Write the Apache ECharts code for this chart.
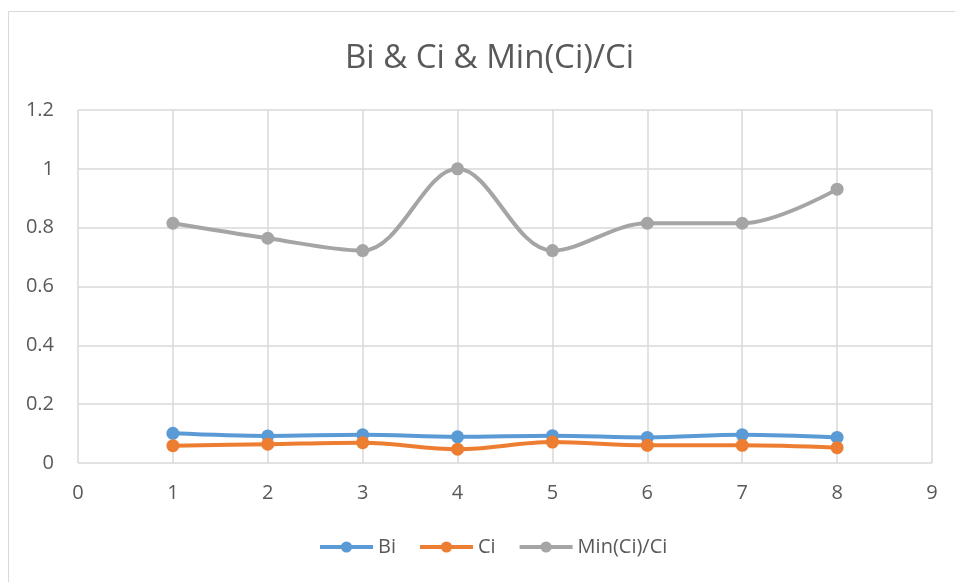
<!DOCTYPE html>
<html><head><meta charset="utf-8">
<script src="https://cdn.jsdelivr.net/npm/echarts@6/dist/echarts.min.js"></script>
<style>html,body{margin:0;padding:0;background:#fff}#c{width:955px;height:582px}</style>
</head><body><div id="c"></div>
<script>
const xValues = [1, 2, 3, 4, 5, 6, 7, 8];
const bi = [0.101, 0.092, 0.096, 0.089, 0.093, 0.087, 0.096, 0.087];
const ci = [0.059, 0.064, 0.069, 0.047, 0.071, 0.060, 0.060, 0.052];
const minRatio = [0.815, 0.764, 0.722, 1.0, 0.722, 0.815, 0.815, 0.931];
const seriesNames = ['Bi', 'Ci', 'Min(Ci)/Ci'];
const colors = ['#5b9bd5', '#ed7d31', '#a5a5a5'];

const chart = echarts.init(document.getElementById('c'));
const font = 'Open Sans, Liberation Sans, sans-serif';
function mk(name, vals, color) {
  return {
    name: name, type: 'line', smooth: 0.35,
    data: xValues.map((x, i) => [x, vals[i]]),
    symbol: 'circle', symbolSize: 13,
    lineStyle: { color: color, width: 4 },
    itemStyle: { color: color },
    emphasis: { disabled: true }
  };
}
chart.setOption({
  animation: false,
  backgroundColor: '#fff',
  title: {
    text: 'Bi & Ci & Min(Ci)/Ci', left: 340, top: 37,
    textStyle: { fontFamily: font, fontSize: 33, fontWeight: 'normal', color: '#595959' }
  },
  graphic: [{ type: 'rect', shape: { x: 8.5, y: 11.5, width: 1000, height: 1000 },
    style: { fill: 'none', stroke: '#d9d9d9', lineWidth: 1 }, silent: true }],
  legend: {
    bottom: 20, left: 313, itemWidth: 53, itemHeight: 14, itemGap: 22,
    data: seriesNames,
    lineStyle: { width: 4 },
    textStyle: { fontFamily: font, fontSize: 20, color: '#595959' }
  },
  grid: { left: 78, right: 23, top: 110, bottom: 119 },
  xAxis: {
    type: 'value', min: 0, max: 9, interval: 1,
    axisLine: { show: false }, axisTick: { show: false },
    axisLabel: { fontFamily: font, fontSize: 20, color: '#595959', margin: 20 },
    splitLine: { show: true, lineStyle: { color: '#d9d9d9', width: 1.5 } }
  },
  yAxis: {
    type: 'value', min: 0, max: 1.2, interval: 0.2,
    axisLine: { show: false }, axisTick: { show: false },
    axisLabel: { fontFamily: font, fontSize: 20, color: '#595959', margin: 24,
      formatter: v => String(Math.round(v * 10) / 10) },
    splitLine: { show: true, lineStyle: { color: '#d9d9d9', width: 1.5 } }
  },
  series: [mk(seriesNames[0], bi, colors[0]), mk(seriesNames[1], ci, colors[1]), mk(seriesNames[2], minRatio, colors[2])]
});
</script></body></html>
